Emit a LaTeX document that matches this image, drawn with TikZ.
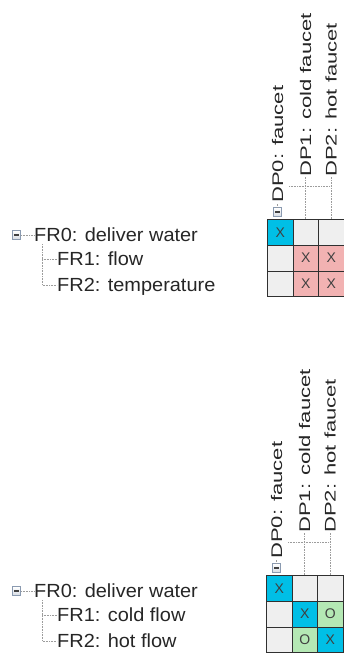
\documentclass[tikz,border=0pt]{standalone}
\usepackage{fontspec}
\setmainfont{Liberation Sans}
\definecolor{cx}{HTML}{00BFE6}
\definecolor{cpink}{HTML}{F2B2B2}
\definecolor{cgreen}{HTML}{B4E8B4}
\definecolor{cempty}{HTML}{EFEFEF}
\definecolor{cline}{HTML}{303030}
\definecolor{cdot}{HTML}{9C9C9C}
\definecolor{cbox}{HTML}{8A9AB0}
\definecolor{ctxt}{HTML}{404040}
\tikzset{
  cell/.style={draw=cline, line width=0.9pt, minimum width=25.5pt, minimum height=25.8pt,
    inner sep=0pt, anchor=north west, text=ctxt, font=\fontsize{14}{14}\selectfont},
  xcell/.style={cell, fill=cx},
  pcell/.style={cell, fill=cpink},
  gcell/.style={cell, fill=cgreen},
  ecell/.style={cell, fill=cempty},
  treeline/.style={draw=cdot, densely dotted, line width=0.6pt},
  minusbox/.style={draw=cbox, line width=0.6pt, top color=white, bottom color=cbox!35,
    minimum size=8.5pt, inner sep=0pt,
    path picture={\draw[line width=1.1pt, ctxt]
      ([xshift=2pt]path picture bounding box.west) -- ([xshift=-2pt]path picture bounding box.east);}},
  frlabel/.style={anchor=west, inner sep=0pt, text height=13.6pt, text depth=0pt,
    text=black!85, font=\fontsize{19}{19}\selectfont},
  dplabel/.style={anchor=west, rotate=90, inner sep=0pt, text height=11pt, text depth=0pt,
    text=black!85, font=\fontsize{15.4}{15.4}\selectfont},
}
\newcommand\dptext[1]{\scalebox{1.43}[1]{#1}}
\newcommand\frtext[1]{\scalebox{1.05}[1]{#1}}
\begin{document}
\begin{tikzpicture}[x=1pt,y=-1pt]
\useasboundingbox (0,0) rectangle (344,653);
% ================= panel A =================
% tree
\node[minusbox] (tma) at (16.5,235) {};
\node[frlabel] (fr0a) at (34,235) {\frtext{FR0: deliver water}};
\node[frlabel] (fr1a) at (57,259) {\frtext{FR1: flow}};
\node[frlabel] (fr2a) at (57,285) {\frtext{FR2: temperature}};
\coordinate (va) at (42,244);
\draw[treeline] (tma.east) -- (fr0a.west);
\draw[treeline] (va) |- (fr2a.west);
\draw[treeline] (va |- fr1a.west) -- (fr1a.west);
% grid
\node[xcell] (a11) at (267,219) {X};
\node[ecell] (a12) at (292.5,219) {};
\node[ecell] (a13) at (318,219) {};
\node[ecell] (a21) at (267,244.8) {};
\node[pcell] (a22) at (292.5,244.8) {X};
\node[pcell] (a23) at (318,244.8) {X};
\node[ecell] (a31) at (267,270.6) {};
\node[pcell] (a32) at (292.5,270.6) {X};
\node[pcell] (a33) at (318,270.6) {X};
% column tree
\node[minusbox] (cma) at (277.5,212) {};
\coordinate (ya) at (0,177);
\node[dplabel] (dp0a) at (277.5,203) {\dptext{DP0: faucet}};
\node[dplabel] (dp1a) at (a12.north |- ya) {\dptext{DP1: cold faucet}};
\node[dplabel] (dp2a) at (a13.north |- ya) {\dptext{DP2: hot faucet}};
\coordinate (ha) at (289,186);
\draw[treeline] (cma.north) -- (dp0a.west);
\draw[treeline] (a12.north) -- (dp1a.west);
\draw[treeline] (a13.north) -- (dp2a.west);
\draw[treeline] (ha) -- (ha -| a13.north);
% ================= panel B =================
\node[minusbox] (tmb) at (16.5,591) {};
\node[frlabel] (fr0b) at (34,591) {\frtext{FR0: deliver water}};
\node[frlabel] (fr1b) at (57,615) {\frtext{FR1: cold flow}};
\node[frlabel] (fr2b) at (57,641) {\frtext{FR2: hot flow}};
\coordinate (vb) at (42,600);
\draw[treeline] (tmb.east) -- (fr0b.west);
\draw[treeline] (vb) |- (fr2b.west);
\draw[treeline] (vb |- fr1b.west) -- (fr1b.west);
% grid
\node[xcell] (b11) at (266,575) {X};
\node[ecell] (b12) at (291.5,575) {};
\node[ecell] (b13) at (317,575) {};
\node[ecell] (b21) at (266,600.8) {};
\node[xcell] (b22) at (291.5,600.8) {X};
\node[gcell] (b23) at (317,600.8) {O};
\node[ecell] (b31) at (266,626.6) {};
\node[gcell] (b32) at (291.5,626.6) {O};
\node[xcell] (b33) at (317,626.6) {X};
% column tree
\node[minusbox] (cmb) at (276.5,568) {};
\coordinate (yb) at (0,533);
\node[dplabel] (dp0b) at (276.5,559) {\dptext{DP0: faucet}};
\node[dplabel] (dp1b) at (b12.north |- yb) {\dptext{DP1: cold faucet}};
\node[dplabel] (dp2b) at (b13.north |- yb) {\dptext{DP2: hot faucet}};
\coordinate (hb) at (288,542);
\draw[treeline] (cmb.north) -- (dp0b.west);
\draw[treeline] (b12.north) -- (dp1b.west);
\draw[treeline] (b13.north) -- (dp2b.west);
\draw[treeline] (hb) -- (hb -| b13.north);
\end{tikzpicture}
\end{document}
